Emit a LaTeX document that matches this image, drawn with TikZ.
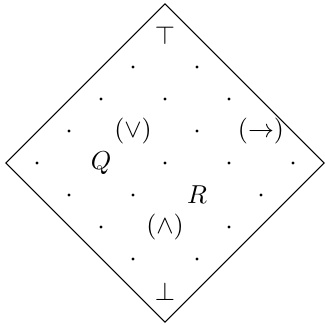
\documentclass[tikz,border=0pt]{standalone}
\usepackage{tikz}
\usetikzlibrary{positioning}

\begin{document}
\begin{tikzpicture}[
    x=0.434cm, y=0.434cm,
    dot/.style={circle, fill, inner sep=0pt, minimum size=1.3pt},
    lbl/.style={inner sep=1pt}
]
\useasboundingbox (-5.156,-5.031) rectangle (5.0,5.094);
% outer diamond
\coordinate (t) at (0,4.97);
\coordinate (r) at (4.97,0);
\coordinate (b) at (0,-4.97);
\coordinate (l) at (-4.97,0);
\draw (t) -- (r) -- (b) -- (l) -- cycle;
% labelled elements
\node[lbl] (top) at (0,4) {$\top$};
\node[lbl] (bot) at (0,-4) {$\bot$};
\node[lbl] (or) at (-1,1) {$(\vee)$};
\node[lbl] (imp) at (3,1) {$(\to)$};
\node[lbl] (q) at (-2,0) {$Q$};
\node[lbl] (rr) at (1,-1) {$R$};
\node[lbl] (and) at (0,-2) {$(\wedge)$};
% remaining points
\foreach \x/\y in {-1/3, 1/3,
                   -2/2, 0/2, 2/2,
                   -3/1, 1/1,
                   -4/0, 0/0, 2/0, 4/0,
                   -3/-1, -1/-1, 3/-1,
                   -2/-2, 2/-2,
                   -1/-3, 1/-3}
  \node[dot] (p\x\y) at (\x,\y) {};
\end{tikzpicture}
\end{document}
